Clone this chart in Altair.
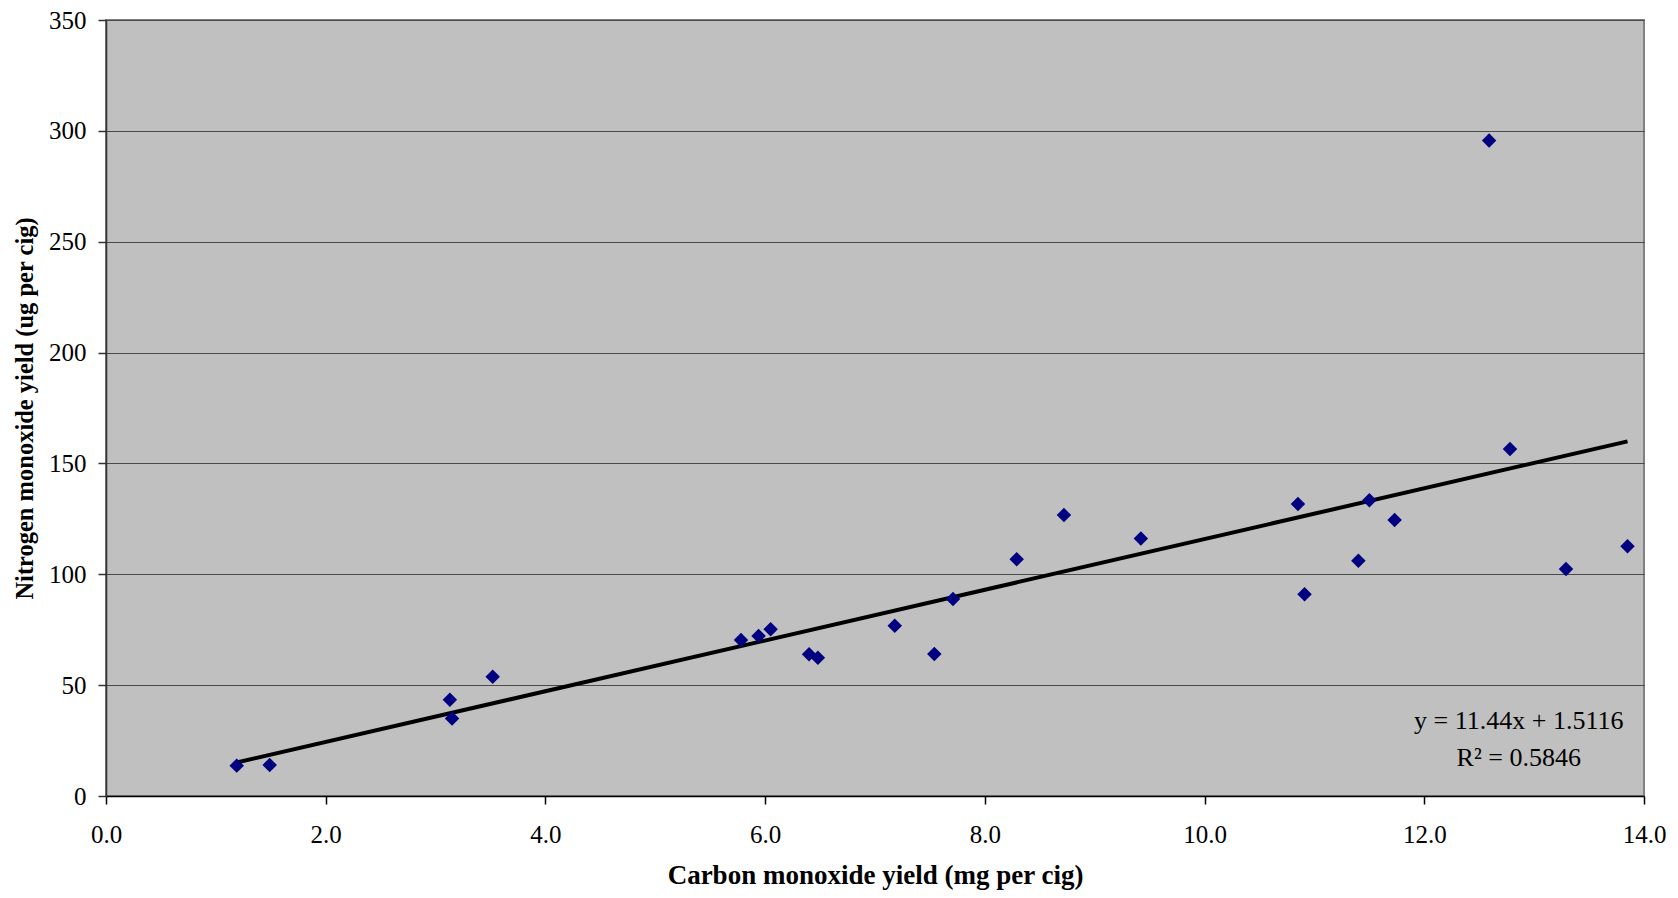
import altair as alt
import pandas as pd

# Data
co_yield = [1.19, 1.49, 3.13, 3.15, 3.52, 5.78, 5.94, 6.05, 6.40, 6.48, 7.18, 7.54,
            7.71, 8.29, 8.72, 9.42, 10.85, 10.91, 11.40, 11.50, 11.73, 12.59, 12.78,
            13.29, 13.85]
no_yield = [13.7, 14.0, 43.4, 35.0, 53.8, 70.4, 72.2, 75.2, 63.9, 62.4, 76.8, 64.0,
            88.9, 106.8, 126.7, 116.1, 131.7, 91.0, 106.1, 133.4, 124.5, 295.6, 156.5,
            102.4, 112.6]

slope = 11.44
intercept = 1.5116
r_squared = 0.5846
eq_lines = ["y = 11.44x + 1.5116", "R\u00b2 = 0.5846"]

x_ticks = [0, 2, 4, 6, 8, 10, 12, 14]
y_ticks = [0, 50, 100, 150, 200, 250, 300, 350]

FONT = "Liberation Serif"

pts = pd.DataFrame({"co": co_yield, "no": no_yield})
trend_x = [min(co_yield), max(co_yield)]
trend = pd.DataFrame({"co": trend_x, "no": [slope * v + intercept for v in trend_x]})
ann = pd.DataFrame({"txt": eq_lines, "co": [12.86, 12.86], "no": [33.9, 17.0]})

xscale = alt.Scale(domain=[0, 14], nice=False, zero=False)
yscale = alt.Scale(domain=[0, 350], nice=False)

xaxis = alt.Axis(title="Carbon monoxide yield (mg per cig)", values=x_ticks, format=".1f",
                 grid=False, tickSize=8, labelPadding=18, labelFlush=False,
                 domainColor="#000000", tickColor="#000000", domainWidth=1.5, tickWidth=1.5,
                 titleFontSize=27, titleFontWeight="bold", titleY=87,
                 titleBaseline="alphabetic", labelFontSize=25)
yaxis = alt.Axis(title="Nitrogen monoxide yield (ug per cig)", values=y_ticks, format="d",
                 grid=True, gridColor="#4a4a4a", gridWidth=1.2, tickSize=8,
                 labelPadding=12, labelFlush=False, domainColor="#333333",
                 tickColor="#333333", domainWidth=1.5, tickWidth=1.5,
                 titleFontSize=24.5, titleFontWeight="bold", titleX=-81, titleY=388,
                 titleAngle=270, titleBaseline="middle", titleAlign="center",
                 labelFontSize=25)

points = alt.Chart(pts).mark_point(shape="diamond", filled=True, size=210,
                                    color="#000080", opacity=1).encode(
    x=alt.X("co:Q", scale=xscale, axis=xaxis),
    y=alt.Y("no:Q", scale=yscale, axis=yaxis),
)

line = alt.Chart(trend).mark_line(color="#000000", strokeWidth=4).encode(
    x=alt.X("co:Q", scale=xscale),
    y=alt.Y("no:Q", scale=yscale),
)

text = alt.Chart(ann).mark_text(font=FONT, fontSize=26, color="#000000",
                                align="center", baseline="middle").encode(
    x=alt.X("co:Q", scale=xscale),
    y=alt.Y("no:Q", scale=yscale),
    text="txt:N",
)

chart = alt.layer(line, points, text).properties(
    width=1538, height=776,
    autosize=alt.AutoSizeParams(type="none"),
    padding={"left": 98, "top": 12, "right": 25, "bottom": 94},
    background="#ffffff",
).configure_view(
    fill="#C0C0C0", stroke="#808080", strokeWidth=2
).configure_axis(
    labelFont=FONT, titleFont=FONT, labelColor="#000000", titleColor="#000000"
)

chart.save("out.html", embed_options={"renderer": "svg", "actions": False})
